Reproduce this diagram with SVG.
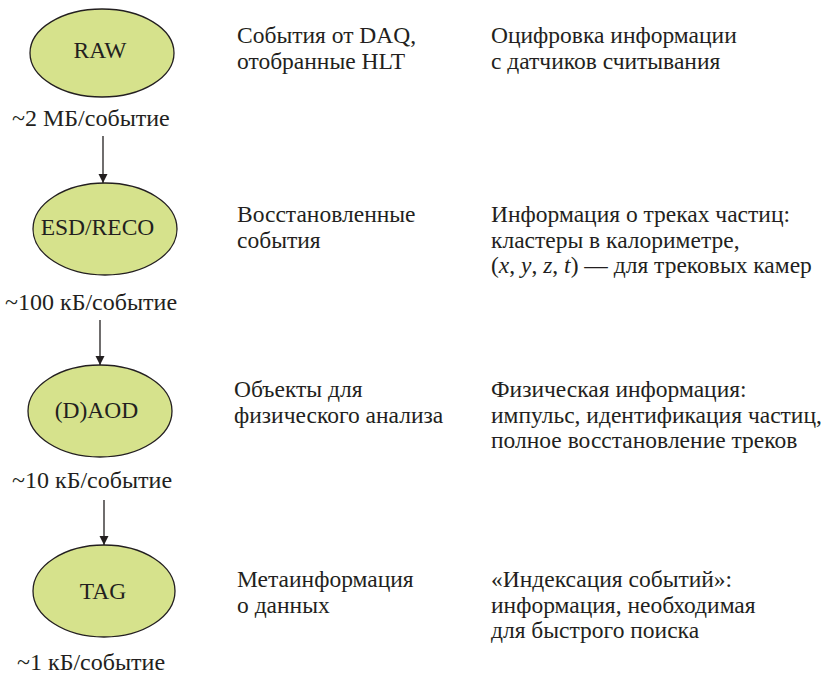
<svg xmlns="http://www.w3.org/2000/svg" width="831" height="676" viewBox="0 0 831 676">
<style>
text{font-family:"Liberation Serif","Times New Roman",serif;font-size:23.5px;fill:#231f20}
#sizes text{font-size:24px}
.n ellipse{fill:#d6e28c;stroke:#231f20;stroke-width:1.3}
.n text{text-anchor:middle}
.c line{stroke:#231f20;stroke-width:1.3}
</style>
<defs>
<marker id="ah" viewBox="0 0 10 10" refX="10" refY="5" markerWidth="9" markerHeight="14" markerUnits="userSpaceOnUse" orient="auto">
<path d="M0,0 L10,5 L0,10 Z" fill="#231f20"/>
</marker>
</defs>
<g id="raw" class="n"><ellipse cx="102" cy="53" rx="72" ry="44"/><text x="100" y="58">RAW</text></g>
<g id="esd" class="n"><ellipse cx="105" cy="229" rx="72" ry="46"/><text x="97.5" y="235">ESD/RECO</text></g>
<g id="aod" class="n"><ellipse cx="100" cy="411" rx="72" ry="46"/><text x="96.5" y="418">(D)AOD</text></g>
<g id="tag" class="n"><ellipse cx="104" cy="591" rx="71" ry="46"/><text x="103" y="599">TAG</text></g>
<g id="connectors" class="c">
<line x1="103" y1="136" x2="103" y2="183" marker-end="url(#ah)"/>
<line x1="100" y1="320" x2="100" y2="365" marker-end="url(#ah)"/>
<line x1="104" y1="500" x2="104" y2="545" marker-end="url(#ah)"/>
</g>
<g id="sizes">
<text x="12" y="126">~2 МБ/событие</text>
<text x="5" y="310">~100 кБ/событие</text>
<text x="12" y="488">~10 кБ/событие</text>
<text x="17" y="670">~1 кБ/событие</text>
</g>
<g id="desc">
<text x="237" y="43">События от DAQ,</text>
<text x="237" y="69">отобранные HLT</text>
<text x="237" y="222">Восстановленные</text>
<text x="237" y="248">события</text>
<text x="234" y="397">Объекты для</text>
<text x="234" y="423">физического анализа</text>
<text x="237" y="587">Метаинформация</text>
<text x="237" y="613">о данных</text>
</g>
<g id="info">
<text x="491" y="43">Оцифровка информации</text>
<text x="491" y="69">с датчиков считывания</text>
<text x="491" y="222">Информация о треках частиц:</text>
<text x="491" y="248">кластеры в калориметре,</text>
<text x="491" y="273">(<tspan font-style="italic">x</tspan>, <tspan font-style="italic">y</tspan>, <tspan font-style="italic">z</tspan>, <tspan font-style="italic">t</tspan>) — для трековых камер</text>
<text x="491" y="397">Физическая информация:</text>
<text x="491" y="423">импульс, идентификация частиц,</text>
<text x="491" y="448">полное восстановление треков</text>
<text x="491" y="587">«Индексация событий»:</text>
<text x="491" y="613">информация, необходимая</text>
<text x="491" y="638">для быстрого поиска</text>
</g>
</svg>
